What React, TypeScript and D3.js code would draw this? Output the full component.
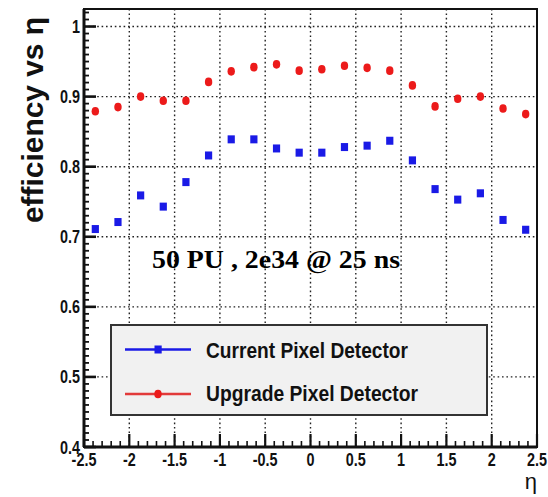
import React from "react";
import * as d3 from "d3";

// Bin centres in eta and the per-bin efficiencies for each detector layout
const etaBins = [
  -2.375, -2.125, -1.875, -1.625, -1.375, -1.125, -0.875, -0.625, -0.375, -0.125,
  0.125, 0.375, 0.625, 0.875, 1.125, 1.375, 1.625, 1.875, 2.125, 2.375,
];
const currentEff = [
  0.711, 0.721, 0.759, 0.743, 0.778, 0.816, 0.839, 0.839, 0.826, 0.82,
  0.82, 0.828, 0.83, 0.837, 0.809, 0.768, 0.753, 0.762, 0.724, 0.71,
];
const upgradeEff = [
  0.879, 0.885, 0.9, 0.894, 0.894, 0.921, 0.936, 0.942, 0.946, 0.937,
  0.939, 0.944, 0.941, 0.937, 0.916, 0.886, 0.897, 0.9, 0.883, 0.875,
];
const xTicks = [-2.5, -2, -1.5, -1, -0.5, 0, 0.5, 1, 1.5, 2, 2.5];
const xTickLabels = ["-2.5", "-2", "-1.5", "-1", "-0.5", "0", "0.5", "1", "1.5", "2", "2.5"];
const yTicks = [0.4, 0.5, 0.6, 0.7, 0.8, 0.9, 1.0];
const yTickLabels = ["0.4", "0.5", "0.6", "0.7", "0.8", "0.9", "1"];
const legendLabels = ["Current Pixel Detector", "Upgrade Pixel Detector"];
const titleText = "50 PU , 2e34 @ 25 ns";

const W = 548;
const H = 497;
const L = 84;
const R = 537;
const T = 9;
const B = 447;

const BLUE = "#1a1ae6";
const RED = "#ec1a1a";
const SANS = "'Liberation Sans', Arial, Helvetica, sans-serif";

export default function App() {
  const x = d3.scaleLinear().domain([-2.5, 2.5]).range([L, R]);
  const y = d3.scaleLinear().domain([0.4, 1.025]).range([B, T]);

  const xMinor = d3.range(-25, 26).map((i) => i / 10);
  const yMinor = d3.range(40, 103).map((i) => i / 100);

  return (
    <svg
      width={W}
      height={H}
      style={{ position: "absolute", left: 0, top: 0, background: "#fff" }}
      fontFamily={SANS}
    >
      <rect width={W} height={H} fill="#fff" />

      {/* dotted grid at the major ticks */}
      <g stroke="#222" strokeWidth={1.4} strokeDasharray="1.6,2.8">
        {xTicks
          .filter((t) => t > -2.5 && t < 2.5)
          .map((t) => (
            <line key={"gx" + t} x1={x(t)} x2={x(t)} y1={T} y2={B} />
          ))}
        {yTicks
          .filter((t) => t > 0.4)
          .map((t) => (
            <line key={"gy" + t} x1={L} x2={R} y1={y(t)} y2={y(t)} />
          ))}
      </g>

      {/* minor and major ticks, drawn inward */}
      <g stroke="#111">
        {xMinor.map((t) => {
          const major = xTicks.some((m) => Math.abs(m - t) < 1e-6);
          return (
            <line
              key={"tx" + t}
              x1={x(t)}
              x2={x(t)}
              y1={B}
              y2={B - (major ? 13 : 6)}
              strokeWidth={major ? 2.2 : 1.6}
            />
          );
        })}
        {yMinor.map((t) => {
          const major = yTicks.some((m) => Math.abs(m - t) < 1e-6);
          return (
            <line
              key={"ty" + t}
              x1={L}
              x2={L + (major ? 12 : 5)}
              y1={y(t)}
              y2={y(t)}
              strokeWidth={major ? 2.6 : 1.8}
            />
          );
        })}
      </g>

      {/* frame */}
      <rect x={L} y={T} width={R - L} height={B - T} fill="none" stroke="#111" strokeWidth={2} />
      <line x1={L} x2={L} y1={T} y2={B} stroke="#111" strokeWidth={3} />
      <line x1={L} x2={R} y1={B} y2={B} stroke="#111" strokeWidth={3} />

      {/* tick labels */}
      <g fontSize={18} fontWeight="bold" fill="#111">
        {yTicks.map((t, i) => (
          <text
            key={"ly" + t}
            transform={`translate(80,${y(t) + 6.5}) scale(0.8,1)`}
            textAnchor="end"
          >
            {yTickLabels[i]}
          </text>
        ))}
        {xTicks.map((t, i) => (
          <text
            key={"lx" + t}
            transform={`translate(${x(t)},466) scale(0.8,1)`}
            textAnchor="middle"
          >
            {xTickLabels[i]}
          </text>
        ))}
      </g>

      {/* axis titles */}
      <text
        transform="translate(43,17) rotate(-90)"
        textAnchor="end"
        fontSize={29}
        fontWeight="bold"
        fill="#111"
        textLength={206}
        lengthAdjust="spacingAndGlyphs"
      >
        efficiency vs η
      </text>
      <text x={537} y={489} textAnchor="end" fontSize={22} fill="#111">
        η
      </text>

      {/* data markers */}
      <g fill={BLUE}>
        {etaBins.map((e, i) => (
          <rect key={"c" + i} x={x(e) - 3.6} y={y(currentEff[i]) - 4} width={7.2} height={8} />
        ))}
      </g>
      <g fill={RED}>
        {etaBins.map((e, i) => (
          <ellipse key={"u" + i} cx={x(e)} cy={y(upgradeEff[i])} rx={3.7} ry={4.3} />
        ))}
      </g>

      {/* run condition */}
      <text
        x={152}
        y={268}
        fontFamily="'Liberation Serif', 'Times New Roman', serif"
        fontWeight="bold"
        fontSize={25}
        fill="#000"
        textLength={248}
        lengthAdjust="spacingAndGlyphs"
      >
        {titleText}
      </text>

      {/* legend */}
      <rect x={111} y={325} width={376} height={90} fill="#f1f1f1" stroke="#333" strokeWidth={2} />
      <line x1={125} x2={191} y1={349.5} y2={349.5} stroke={BLUE} strokeWidth={2.4} />
      <rect x={154.5} y={345.5} width={7.2} height={8} fill={BLUE} />
      <text
        x={206}
        y={358}
        fontSize={22}
        fontWeight="bold"
        fill="#111"
        textLength={202}
        lengthAdjust="spacingAndGlyphs"
      >
        {legendLabels[0]}
      </text>
      <line x1={125} x2={191} y1={394} y2={394} stroke="#e23a3a" strokeWidth={2.4} />
      <ellipse cx={158} cy={394} rx={3.7} ry={4.3} fill={RED} />
      <text
        x={206}
        y={400.5}
        fontSize={22}
        fontWeight="bold"
        fill="#111"
        textLength={212}
        lengthAdjust="spacingAndGlyphs"
      >
        {legendLabels[1]}
      </text>
    </svg>
  );
}
